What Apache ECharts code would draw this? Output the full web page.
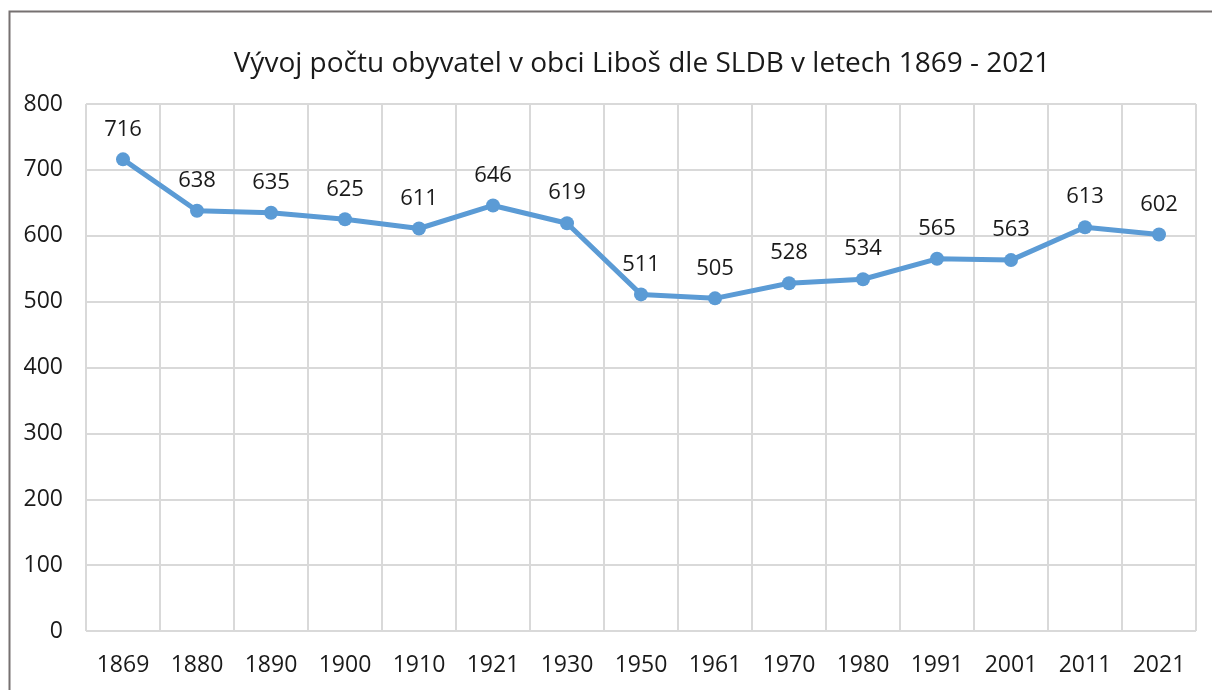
<!DOCTYPE html>
<html lang="cs">
<head>
  <meta charset="UTF-8">
  <title>Vývoj počtu obyvatel</title>
  <script src="https://cdn.jsdelivr.net/npm/echarts@6/dist/echarts.min.js"></script>
</head>
<body style="margin:0;background:#fff;">
  <div id="chart" style="width:1212px;height:690px;"></div>
  <script>
    // roky SLDB a počty obyvatel
    var years = ['1869', '1880', '1890', '1900', '1910', '1921', '1930', '1950', '1961', '1970', '1980', '1991', '2001', '2011', '2021'];
    var population = [716, 638, 635, 625, 611, 646, 619, 511, 505, 528, 534, 565, 563, 613, 602];
    var titleText = 'Vývoj počtu obyvatel v obci Liboš dle SLDB v letech 1869 - 2021';

    var chart = echarts.init(document.getElementById('chart'));
    var font = '"Open Sans", "Noto Sans", sans-serif';

    chart.setOption({
      animation: false,
      title: {
        text: titleText,
        left: 637,
        textAlign: 'center',
        top: 45,
        textStyle: { fontFamily: font, fontSize: 28, fontWeight: 'normal', color: '#1a1a1a' }
      },
      // ramecek okolo grafu
      graphic: [{
        type: 'rect',
        shape: { x: 9.5, y: 11.5, width: 1300, height: 800 },
        style: { fill: 'none', stroke: '#767171', lineWidth: 2 },
        silent: true
      }],
      grid: { left: 86, right: 16, top: 104, bottom: 59 },
      xAxis: {
        type: 'category',
        data: years,
        boundaryGap: true,
        axisLine: { show: false },
        axisTick: { show: false },
        splitLine: { show: true, lineStyle: { color: '#d9d9d9', width: 2 } },
        axisLabel: { fontFamily: font, fontSize: 23, color: '#1a1a1a', margin: 23 }
      },
      yAxis: {
        type: 'value',
        min: 0,
        max: 800,
        interval: 100,
        axisLine: { show: false },
        axisTick: { show: false },
        splitLine: { lineStyle: { color: '#d9d9d9', width: 2 } },
        axisLabel: { fontFamily: font, fontSize: 23, color: '#1a1a1a', margin: 23 }
      },
      series: [{
        type: 'line',
        data: population,
        symbol: 'circle',
        symbolSize: 14,
        lineStyle: { color: '#5b9bd5', width: 5 },
        itemStyle: { color: '#5b9bd5' },
        label: {
          show: true,
          position: 'top',
          distance: 12,
          fontFamily: font,
          fontSize: 22,
          color: '#1a1a1a'
        }
      }]
    });
  </script>
</body>
</html>
